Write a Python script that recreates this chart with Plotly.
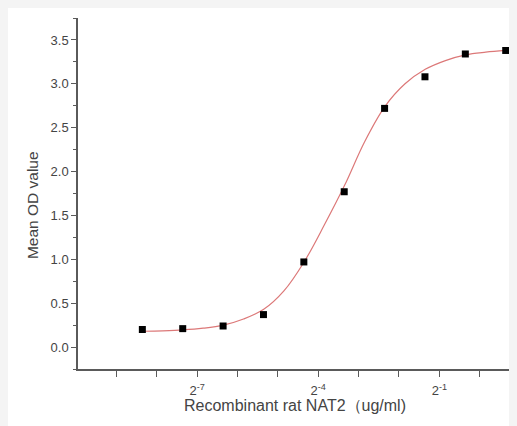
import numpy as np
import plotly.graph_objects as go

# Measured data (concentration in ug/ml, mean OD)
conc = [0.0030518, 0.0061035, 0.012207, 0.024414, 0.048828,
        0.097656, 0.19531, 0.39063, 0.78125, 1.5625]
od = [0.20, 0.21, 0.24, 0.37, 0.97, 1.77, 2.72, 3.08, 3.34, 3.38]

# Fitted curve (log2 of concentration, OD)
curve_log2 = [-8.35, -7.85, -7.35, -6.85, -6.35, -5.85, -5.35, -4.85, -4.35,
              -3.85, -3.35, -2.85, -2.35, -1.85, -1.35, -0.85, -0.35, 0.15, 0.64]
curve_od = [0.18, 0.185, 0.195, 0.215, 0.25, 0.32, 0.43, 0.64, 0.97,
            1.39, 1.84, 2.34, 2.74, 3.00, 3.165, 3.265, 3.33, 3.36, 3.38]

# Axis ticks (log2 exponents) and their labels
xlabel_exp = [-7, -4, -1]
xlabel_text = ["2<sup>-7</sup>", "2<sup>-4</sup>", "2<sup>-1</sup>"]
xminor_exp = [-9, -8, -6, -5, -3, -2, 0]
ytick_vals = [0.0, 0.5, 1.0, 1.5, 2.0, 2.5, 3.0, 3.5]
ytick_text = ["0.0", "0.5", "1.0", "1.5", "2.0", "2.5", "3.0", "3.5"]
x_title = "Recombinant rat NAT2（ug/ml)"
y_title = "Mean OD value"

curve_x = np.power(2.0, np.array(curve_log2))
xlabel_vals = [2.0 ** e for e in xlabel_exp]
xminor_vals = [2.0 ** e for e in xminor_exp]

fig = go.Figure()
fig.add_trace(go.Scatter(
    x=curve_x, y=curve_od, mode="lines", line_shape="spline",
    line=dict(color="#dc7878", width=1.2), hoverinfo="skip", showlegend=False))
fig.add_trace(go.Scatter(
    x=conc, y=od, mode="markers", cliponaxis=False,
    marker=dict(symbol="square", size=7, color="black"), showlegend=False))

axis_col = "#5a5a5a"
font = "Liberation Sans, Arial, sans-serif"
txt_col = "#444444"

fig.update_layout(
    width=509, height=418,
    margin=dict(l=70, r=7, t=10, b=57, autoexpand=False),
    paper_bgcolor="white", plot_bgcolor="white",
    font=dict(family=font, color=txt_col, size=12),
    xaxis=dict(
        type="log", range=[np.log10(2.0 ** -9.95), np.log10(2.0 ** 0.75)],
        tickmode="array", tickvals=xlabel_vals, ticktext=xlabel_text, automargin=False,
        ticks="outside", ticklen=6, tickwidth=1.3, tickcolor=axis_col,
        ticklabelstandoff=3,
        minor=dict(tickmode="array", tickvals=xminor_vals, ticks="outside",
                   ticklen=6, tickwidth=1.3, tickcolor=axis_col, showgrid=False),
        showline=True, linecolor=axis_col, linewidth=1.5,
        showgrid=False, zeroline=False,
        tickfont=dict(size=13, color=txt_col),
    ),
    yaxis=dict(
        range=[-0.25, 3.75], automargin=False,
        tickvals=ytick_vals, ticktext=ytick_text,
        ticks="outside", ticklen=5, tickwidth=1.3, tickcolor=axis_col,
        minor=dict(dtick=0.25, tick0=0, ticks="outside", ticklen=3, tickwidth=1, tickcolor=axis_col),
        showline=True, linecolor=axis_col, linewidth=1.5,
        showgrid=False, zeroline=False,
        tickfont=dict(size=13, color=txt_col),
    ),
    annotations=[
        dict(text=x_title, xref="paper", yref="paper", x=0.502, y=-0.1026,
             xanchor="center", yanchor="middle", showarrow=False,
             font=dict(size=16, color=txt_col)),
        dict(text=y_title, xref="paper", yref="paper", x=-0.1065, y=0.467,
             xanchor="center", yanchor="middle", textangle=-90, showarrow=False,
             font=dict(size=15.5, color=txt_col)),
    ],
)

fig.write_html("out.html", post_script="document.body.style.backgroundColor='#f4f4f4';")
